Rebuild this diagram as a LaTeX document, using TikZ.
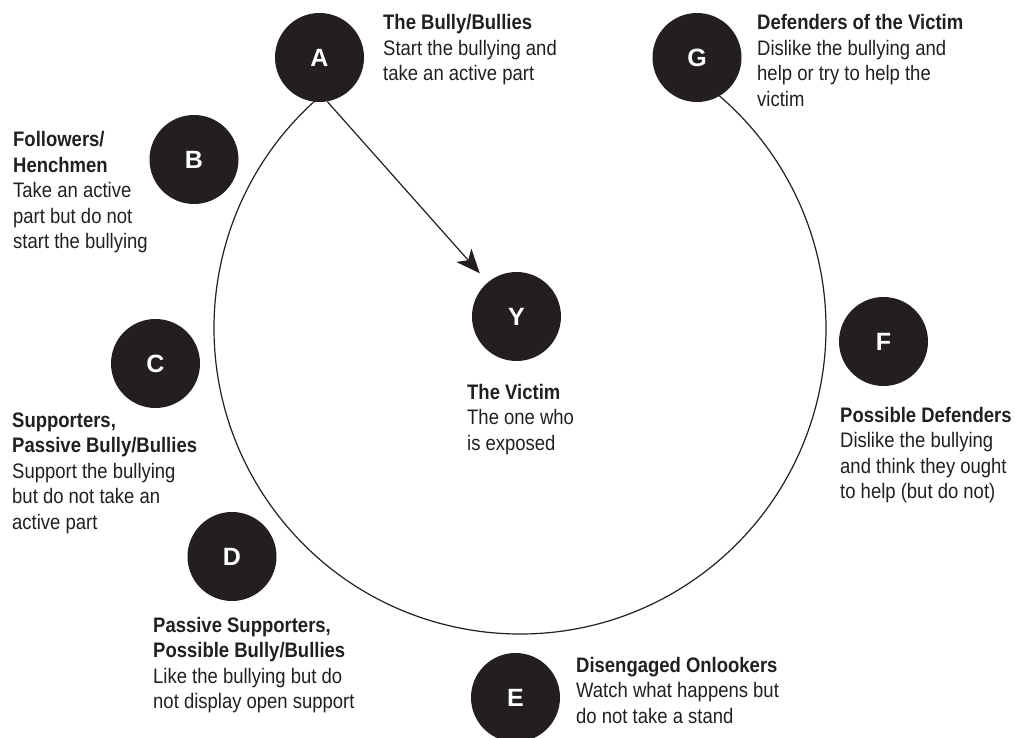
\documentclass[tikz,border=0pt]{standalone}
\usepackage{fontspec}
\setmainfont{Liberation Sans}[FakeStretch=0.88]
\newfontfamily\letterfont{Liberation Sans}
\usetikzlibrary{arrows.meta}
\definecolor{ink}{HTML}{231F20}
\tikzset{
  role/.style={circle, fill=ink, inner sep=0pt, minimum size=89pt,
    text=white, font=\letterfont\bfseries\fontsize{25}{30}\selectfont},
  lbl/.style={anchor=base west, inner sep=0pt, text=ink,
    font=\fontsize{21}{25.5}\selectfont},
  ring/.style={draw=ink, line width=1.2pt},
  link/.style={draw=ink, line width=1.2pt,
    -{Stealth[length=24pt, width=20pt, inset=6.5pt]}, shorten >=12pt}
}
\newcommand{\lines}[1]{\begin{tabular}[t]{@{}l@{}}#1\end{tabular}}
\begin{document}
\begin{tikzpicture}[x=1pt, y=1pt]
\useasboundingbox (0,0) rectangle (1015,-738);
% ring behind the role circles
\draw[ring] (520,-328) ++(128:306) arc[start angle=128, end angle=412, radius=306];
% role circles
\node[role] (A) at (319.5,-57.5) {A};
\node[role] (B) at (194,-159.5) {B};
\node[role] (C) at (155.5,-363.5) {C};
\node[role] (D) at (232,-556.5) {D};
\node[role] (E) at (515.5,-697.5) {E};
\node[role] (F) at (883.5,-341.5) {F};
\node[role] (G) at (697,-57.5) {G};
\node[role] (Y) at (516.5,-316.5) {Y};
% arrow
\draw[link] (A.-80) -- (Y.130);
% labels
\node[lbl] (tA) at (383,-30) {\lines{\textbf{The Bully/Bullies}\\Start the bullying and\\take an active part}};
\node[lbl] (tG) at (757,-30) {\lines{\textbf{Defenders of the Victim}\\Dislike the bullying and\\help or try to help the\\victim}};
\node[lbl] (tB) at (13,-147) {\lines{\textbf{Followers/}\\\textbf{Henchmen}\\Take an active\\part but do not\\start the bullying}};
\node[lbl] (tC) at (12,-427) {\lines{\textbf{Supporters,}\\\textbf{Passive Bully/Bullies}\\Support the bullying\\but do not take an\\active part}};
\node[lbl] (tD) at (153,-632) {\lines{\textbf{Passive Supporters,}\\\textbf{Possible Bully/Bullies}\\Like the bullying but do\\not display open support}};
\node[lbl] (tE) at (576,-672) {\lines{\textbf{Disengaged Onlookers}\\Watch what happens but\\do not take a stand}};
\node[lbl] (tF) at (840,-422) {\lines{\textbf{Possible Defenders}\\Dislike the bullying\\and think they ought\\to help (but do not)}};
\node[lbl] (tY) at (467,-399) {\lines{\textbf{The Victim}\\The one who\\is exposed}};
\end{tikzpicture}
\end{document}
